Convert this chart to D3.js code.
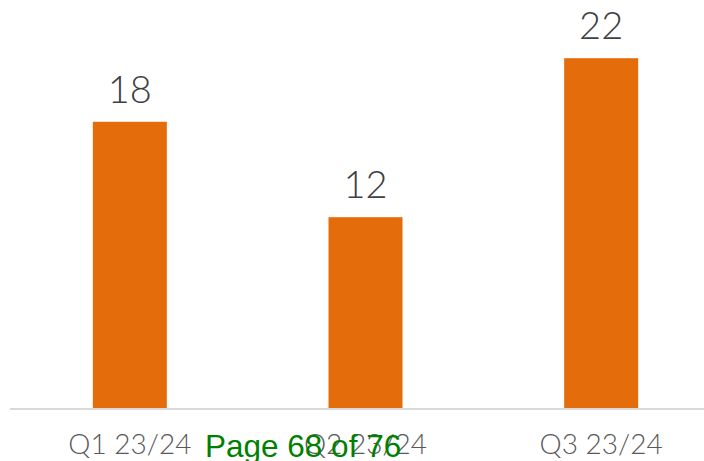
<html lang="en">
  <head>
    <meta charset="UTF-8">
    <title>Quarterly bars</title>
    <script src="https://d3js.org/d3.v7.min.js"></script>
    <style>
body, html {
  margin: 0;
  padding: 0;
  background: white;
  overflow: hidden;
}
svg { display: block; }
    </style>
  </head>
  <body>
    <svg width="704" height="461"></svg>
    <script>
      const categories = ["Q1 23/24", "Q2 23/24", "Q3 23/24"];
      const values = [18, 12, 22];
      const footer = "Page 68 of 76";

      const svg = d3.select("svg");
      const baseline = 408;

      // chart is wider than the window, the right edge gets cut
      const x = d3.scaleBand()
        .domain(categories)
        .range([12, 719])
        .paddingInner(0.686)
        .paddingOuter(0.343);

      const y = d3.scaleLinear()
        .domain([0, 25])
        .range([baseline, 10.5]);

      svg.selectAll("rect.bar")
        .data(values)
        .join("rect")
        .attr("class", "bar")
        .attr("x", (d, i) => x(categories[i]))
        .attr("width", x.bandwidth())
        .attr("y", d => y(d))
        .attr("height", d => y(0) - y(d))
        .attr("fill", "#E46C0A");

      svg.append("line")
        .attr("x1", 10)
        .attr("x2", 704)
        .attr("y1", baseline + 1)
        .attr("y2", baseline + 1)
        .attr("stroke", "#D9D9D9")
        .attr("stroke-width", 2);

      svg.selectAll("text.value")
        .data(values)
        .join("text")
        .attr("class", "value")
        .attr("x", (d, i) => x(categories[i]) + x.bandwidth() / 2)
        .attr("y", d => y(d) - 19)
        .attr("text-anchor", "middle")
        .attr("font-family", "Lato, sans-serif")
        .attr("font-weight", 300)
        .attr("font-size", 38)
        .attr("fill", "#404040")
        .text(d => d);

      svg.selectAll("text.cat")
        .data(categories)
        .join("text")
        .attr("class", "cat")
        .attr("x", d => x(d) + x.bandwidth() / 2)
        .attr("y", 454)
        .attr("text-anchor", "middle")
        .attr("font-family", "Lato, sans-serif")
        .attr("font-weight", 300)
        .attr("font-size", 28)
        .attr("fill", "#595959")
        .text(d => d);

      // footer stamped over the axis labels, as in the source
      svg.append("text")
        .attr("x", 205)
        .attr("y", 457)
        .attr("font-family", "Liberation Sans, Arial, sans-serif")
        .attr("font-size", 31.5)
        .attr("fill", "#008000")
        .text(footer);
    </script>
  </body>
</html>
